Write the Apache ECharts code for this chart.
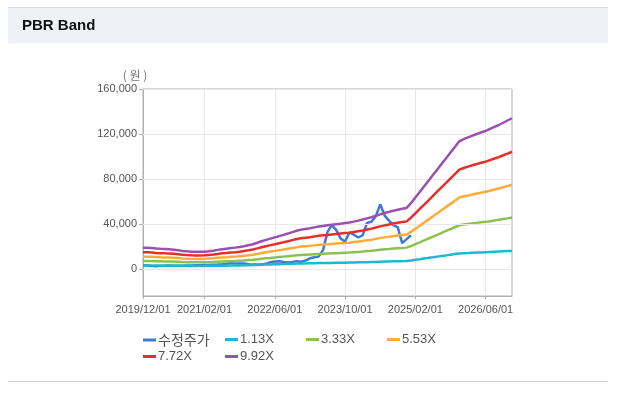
<!DOCTYPE html>
<html>
<head>
<meta charset="utf-8">
<script src="https://cdn.jsdelivr.net/npm/echarts@6/dist/echarts.min.js"></script>
<style>
html,body{margin:0;padding:0;background:#fff;}
#c{width:622px;height:393px;}
</style>
</head>
<body>
<div id="c"></div>
<script>
const categories = [
'2019/12/01',
'2020/01/01','2020/02/01','2020/03/01','2020/04/01','2020/05/01','2020/06/01','2020/07/01','2020/08/01','2020/09/01','2020/10/01','2020/11/01','2020/12/01',
'2021/01/01','2021/02/01','2021/03/01','2021/04/01','2021/05/01','2021/06/01','2021/07/01','2021/08/01','2021/09/01','2021/10/01','2021/11/01','2021/12/01',
'2022/01/01','2022/02/01','2022/03/01','2022/04/01','2022/05/01','2022/06/01','2022/07/01','2022/08/01','2022/09/01','2022/10/01','2022/11/01','2022/12/01',
'2023/01/01','2023/02/01','2023/03/01','2023/04/01','2023/05/01','2023/06/01','2023/07/01','2023/08/01','2023/09/01','2023/10/01','2023/11/01','2023/12/01',
'2024/01/01','2024/02/01','2024/03/01','2024/04/01','2024/05/01','2024/06/01','2024/07/01','2024/08/01','2024/09/01','2024/10/01','2024/11/01','2024/12/01',
'2025/01/01','2025/02/01','2025/03/01','2025/04/01','2025/05/01','2025/06/01','2025/07/01','2025/08/01','2025/09/01','2025/10/01','2025/11/01','2025/12/01',
'2026/01/01','2026/02/01','2026/03/01','2026/04/01','2026/05/01','2026/06/01','2026/07/01','2026/08/01','2026/09/01','2026/10/01','2026/11/01','2026/12/01'
];
const xLabelDates = ['2019/12/01','2021/02/01','2022/06/01','2023/10/01','2025/02/01','2026/06/01'];
const yTickValues = [0, 40000, 80000, 120000, 160000];

const price = [
3300,3100,2700,2500,2800,3000,3200,3000,2900,3000,3100,3200,3300,
3400,3500,3600,3800,4000,4300,4700,5200,5000,4900,5000,4200,
3900,3900,4100,4600,6000,6600,6800,6200,5800,6300,7000,6500,
7500,9500,10500,11000,17000,33000,39000,34500,27000,24500,32500,30500,
28000,30000,41000,42000,47000,57500,47500,43000,39000,37000,23000,26500,
30000,null,null,null,null,null,null,null,null,null,null,null,
null,null,null,null,null,null,null,null,null,null,null,null
];
const band113 = [
3100,3100,3100,3100,3000,3000,3000,2900,2900,2800,2800,2700,2700,
2700,2700,2800,2800,2900,3000,3000,3100,3100,3200,3300,3400,
3500,3600,3800,3900,4100,4200,4300,4400,4600,4700,4800,5000,
5000,5100,5200,5300,5300,5400,5400,5500,5600,5600,5700,5800,
5900,6000,6100,6200,6300,6500,6600,6700,6900,7000,7000,7100,
7600,8200,8700,9300,9900,10400,11000,11600,12100,12700,13300,13800,
14100,14200,14400,14600,14700,14900,15100,15300,15500,15700,15900,16100
];
const band333 = [
7100,7100,7000,6900,6800,6700,6700,6600,6400,6200,6100,6000,5900,
5900,6000,6100,6300,6500,6700,6900,7000,7200,7400,7600,7900,
8200,8600,9100,9500,9800,10200,10600,11000,11400,11800,12200,12500,
12700,12900,13200,13400,13600,13800,14000,14100,14300,14500,14600,14900,
15200,15500,15900,16200,16600,17100,17500,17800,18200,18500,18700,19000,
20400,22100,23700,25400,27100,28800,30400,32100,33800,35500,37100,38800,
39500,40000,40500,41000,41500,41900,42500,43100,43700,44400,45000,45700
];
const band553 = [
11000,10900,10800,10600,10400,10300,10200,10000,9800,9400,9200,9000,9000,
9000,9000,9300,9500,9900,10300,10500,10800,11000,11400,11800,12200,
12700,13400,14200,14900,15500,16100,16700,17300,18000,18700,19400,19900,
20300,20600,21000,21400,21800,22000,22300,22600,22900,23100,23400,23900,
24400,24900,25500,26000,26800,27500,28100,28700,29200,29700,30200,30600,
33000,35700,38500,41300,44100,46800,49600,52400,55200,57900,60700,63500,
64600,65400,66300,67100,67900,68600,69600,70600,71500,72700,73800,74900
];
const band772 = [
14900,14800,14600,14300,14100,13900,13800,13500,13200,12700,12400,12200,12100,
12100,12200,12500,12800,13400,13900,14200,14600,14900,15400,16000,16600,
17300,18300,19400,20300,21200,22000,22900,23700,24600,25700,26600,27400,
27800,28300,28900,29500,29900,30300,30700,31100,31500,31900,32200,32900,
33600,34300,35100,35900,36900,37900,38800,39600,40400,41100,41700,42300,
45600,49500,53400,57200,61100,65000,68900,72800,76600,80500,84400,88300,
89800,91000,92200,93300,94500,95400,96800,98200,99500,101100,102600,104200
];
const band992 = [
18900,18800,18600,18200,17900,17700,17500,17200,16700,16100,15700,15400,15300,
15300,15400,15800,16300,17000,17600,18100,18600,19000,19600,20300,21100,
22000,23300,24700,25900,27000,28100,29200,30300,31500,32800,34000,35000,
35600,36200,37000,37700,38300,38800,39300,39800,40300,40800,41300,42100,
43000,44000,45000,46000,47300,48600,49800,50800,51800,52700,53500,54300,
58500,63500,68500,73500,78500,83500,88500,93500,98500,103500,108500,113500,
115500,117000,118500,120000,121500,122700,124500,126300,128000,130000,132000,134000
];

const seriesNames = ['수정주가','1.13X','3.33X','5.53X','7.72X','9.92X'];
const seriesColors = ['#3b7ad6','#1cb8cf','#8cc151','#ffac3a','#e5302a','#9a50b0'];
const seriesData = [price, band113, band333, band553, band772, band992];

const chart = echarts.init(document.getElementById('c'), null, {renderer:'canvas'});

const showLabel = (idx, val) => xLabelDates.indexOf(val) >= 0;

const legendPos = [[143,333],[225,333],[306,333],[387,333],[143,350],[225,350]];
const legends = seriesNames.map((n, i) => ({
  data: [n],
  left: legendPos[i][0],
  top: legendPos[i][1],
  icon: 'rect',
  itemWidth: 13,
  itemHeight: 3,
  padding: 0,
  selectedMode: false,
  textStyle: {
    color: '#555',
    fontSize: i === 0 ? 14 : 13,
    fontFamily: i === 0 ? 'Noto Sans CJK KR' : 'Liberation Sans',
    padding: [0,0,0,-3]
  }
}));

const series = seriesNames.map((n, i) => ({
  name: n,
  type: 'line',
  data: seriesData[i],
  showSymbol: false,
  symbol: 'none',
  lineStyle: {width: 2.5, color: seriesColors[i]},
  itemStyle: {color: seriesColors[i]},
  z: 2 + i,
  animation: false
}));

series.unshift({
  name: 'grid',
  type: 'line',
  data: [],
  silent: true,
  z: 1,
  markLine: {
    silent: true,
    symbol: 'none',
    animation: false,
    label: {show: false},
    lineStyle: {color: '#e8e8e8', width: 1, type: 'solid'},
    data: yTickValues.map(v => ({yAxis: v}))
  }
});

const option = {
  animation: false,
  backgroundColor: '#fff',
  graphic: [
    {type:'rect', shape:{x:8, y:7, width:600, height:36}, style:{fill:'#eef2f7'}, z:0},
    {type:'line', shape:{x1:8, y1:7.5, x2:608, y2:7.5}, style:{stroke:'#dcdcdc', lineWidth:1}},
    {type:'line', shape:{x1:8, y1:381.5, x2:608, y2:381.5}, style:{stroke:'#cfcfcf', lineWidth:1}},
    {type:'text', left:22, top:18, style:{text:'PBR Band', font:'bold 15px "Liberation Sans", Arial, sans-serif', fill:'#111'}}
  ],
  legend: legends,
  grid: {left:143, right:110, top:89, bottom:97, show:true, borderColor:'#b0b0b0', borderWidth:1, backgroundColor:'#fff'},
  xAxis: {
    type: 'category',
    data: categories,
    boundaryGap: false,
    axisLine: {onZero:false, lineStyle:{color:'#b0b0b0'}},
    axisTick: {show:true, interval: showLabel, length:3, lineStyle:{color:'#b0b0b0'}},
    axisLabel: {interval: showLabel, color:'#555', fontSize:11, fontFamily:'Liberation Sans', margin:8, hideOverlap:false},
    splitLine: {show:true, interval: showLabel, lineStyle:{color:'#e8e8e8'}}
  },
  yAxis: {
    type: 'value',
    min: -24000,
    max: 160000,
    name: '( 원 )',
    nameLocation: 'end',
    nameGap: 8,
    nameTextStyle: {color:'#777', fontSize:12, fontFamily:'Noto Sans CJK KR', align:'center', padding:[0,16,0,0]},
    axisLine: {show:true, lineStyle:{color:'#b0b0b0'}},
    axisTick: {show:true, customValues: yTickValues, length:4, lineStyle:{color:'#b0b0b0'}},
    axisLabel: {customValues: yTickValues, color:'#555', fontSize:11, fontFamily:'Liberation Sans', margin:6,
      formatter: v => v.toLocaleString('en-US')},
    splitLine: {show:false}
  },
  series: series
};
chart.setOption(option);
</script>
</body>
</html>
